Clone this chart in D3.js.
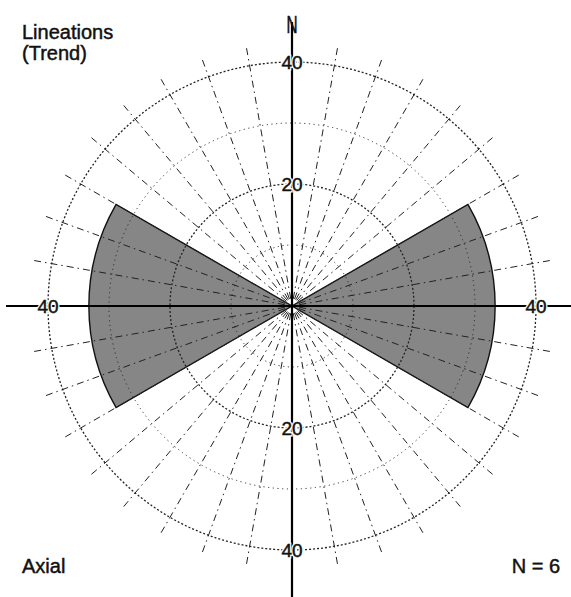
<!DOCTYPE html>
<html>
<head>
<meta charset="utf-8">
<script src="https://cdn.jsdelivr.net/npm/d3@7/dist/d3.min.js"></script>
<style>
  html, body { margin: 0; padding: 0; background: #fff; }
  svg { display: block; }
  text { font-family: "Liberation Sans", Arial, sans-serif; fill: #111; }
  .ink { stroke: #111; stroke-width: 0.45; }
</style>
</head>
<body>
<svg id="chart" width="571" height="597"></svg>
<script>
// Rose diagram of lineation trends (axial data, each trend plotted in both directions)
const petalStart = [60, 240];      // degrees clockwise from north
const petalEnd   = [120, 300];
const petalValue = [33.3, 33.3];   // percent

const ringValues   = [10, 20, 30, 40];
const ringLabels   = [20, 40];
const spokeAngles  = d3.range(0, 360, 10).filter(a => a % 90 !== 0);
const sampleCount  = 6;

const W = 571, H = 597;
const cx = 292, cy = 306;
const maxValue = 40;

const svg = d3.select("#chart");
const r = d3.scaleLinear().domain([0, maxValue]).range([0, 244]);
const toRad = d => d * Math.PI / 180;

const g = svg.append("g").attr("transform", `translate(${cx},${cy})`);

// Petals
const arc = d3.arc().innerRadius(0);
const petals = petalStart.map((s, i) => ({ s, e: petalEnd[i], v: petalValue[i] }));
g.selectAll("path.petal")
  .data(petals)
  .join("path")
  .attr("class", "petal")
  .attr("d", d => arc({ startAngle: toRad(d.s), endAngle: toRad(d.e), outerRadius: r(d.v) }))
  .attr("fill", "#868686")
  .attr("stroke", "#111")
  .attr("stroke-width", 1.4);

// Spokes every 10 degrees
g.selectAll("line.spoke")
  .data(spokeAngles)
  .join("line")
  .attr("class", "spoke")
  .attr("x1", d => Math.sin(toRad(d)) * r(1.2))
  .attr("y1", d => -Math.cos(toRad(d)) * r(1.2))
  .attr("x2", d => Math.sin(toRad(d)) * r(43.5))
  .attr("y2", d => -Math.cos(toRad(d)) * r(43.5))
  .attr("stroke", "#222")
  .attr("stroke-width", 1)
  .attr("stroke-dasharray", "7,4,1.5,4");

// Rings
g.selectAll("circle.ring")
  .data(ringValues)
  .join("circle")
  .attr("class", "ring")
  .attr("r", d => r(d))
  .attr("fill", "none")
  .attr("stroke", "#222")
  .attr("stroke-width", d => d % 20 === 0 ? 1.3 : 0.9)
  .attr("stroke-dasharray", d => d % 20 === 0 ? "2,2" : "1.2,3.5");

// Main axes
g.append("line")
  .attr("x1", 0).attr("y1", 22 - cy)
  .attr("x2", 0).attr("y2", H - cy)
  .attr("stroke", "#000").attr("stroke-width", 2.2);
g.append("line")
  .attr("x1", 6 - cx).attr("y1", 0)
  .attr("x2", W - cx).attr("y2", 0)
  .attr("stroke", "#000").attr("stroke-width", 2.2);

// Ring labels on the axes
const labelPos = [];
ringLabels.forEach(v => {
  labelPos.push({ v, x: 0, y: -r(v) });
  labelPos.push({ v, x: 0, y: r(v) });
});
labelPos.push({ v: 40, x: -r(40), y: 0 });
labelPos.push({ v: 40, x: r(40), y: 0 });

const ticks = g.selectAll("g.tick")
  .data(labelPos)
  .join("g")
  .attr("class", "tick")
  .attr("transform", d => `translate(${d.x},${d.y})`);
ticks.append("text")
  .attr("dy", "0.36em")
  .attr("text-anchor", "middle")
  .attr("font-size", 19)
  .attr("stroke", "#fff")
  .attr("stroke-width", 3)
  .style("fill", "#fff")
  .text(d => d.v);
ticks.append("text")
  .attr("class", "ink")
  .attr("dy", "0.36em")
  .attr("text-anchor", "middle")
  .attr("font-size", 19)
  .text(d => d.v);

// North marker
svg.append("text")
  .attr("class", "ink")
  .attr("transform", `translate(${cx},33) scale(0.85,1.35)`)
  .attr("text-anchor", "middle")
  .attr("font-size", 18)
  .text("N");

// Corner annotations
const notes = [
  { t: "Lineations", x: 22, y: 39, a: "start" },
  { t: "(Trend)", x: 22, y: 60, a: "start" },
  { t: "Axial", x: 22, y: 573, a: "start" },
  { t: `N = ${sampleCount}`, x: 560, y: 573, a: "end" }
];
svg.selectAll("text.note")
  .data(notes)
  .join("text")
  .attr("class", "note ink")
  .attr("x", d => d.x).attr("y", d => d.y)
  .attr("text-anchor", d => d.a)
  .attr("font-size", 20)
  .text(d => d.t);
</script>
</body>
</html>
